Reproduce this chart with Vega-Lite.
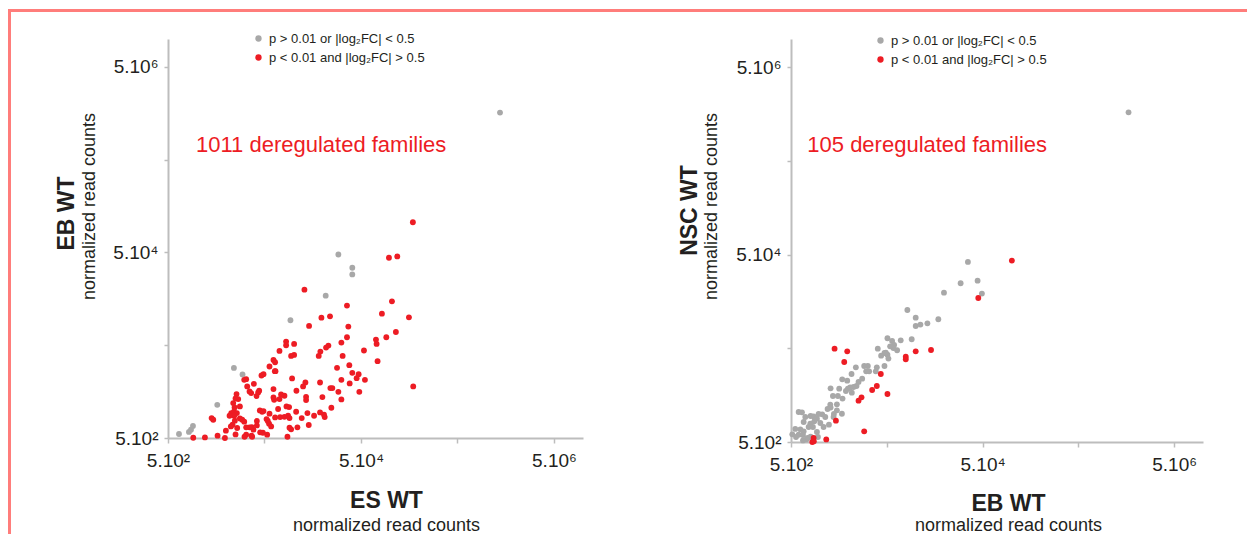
{
  "$schema": "https://vega.github.io/schema/vega-lite/v6.json",
  "padding": {"left": 8, "top": 9, "right": 0, "bottom": 0},
  "config": {
    "font": "Liberation Sans",
    "view": {"stroke": null},
    "axis": {"grid": false, "domainColor": "#BDBDBD", "domainWidth": 2, "tickColor": "#BDBDBD", "tickWidth": 1.5, "tickSize": 5, "labelFontSize": 19, "labelColor": "#231F20", "titleColor": "#231F20", "labelFont": "Liberation Sans", "titleFont": "Liberation Sans"}
  },
  "datasets": {
    "left": [
      {"x": 650, "y": 552, "g": "ns"}, {"x": 824, "y": 581, "g": "ns"}, {"x": 865, "y": 615, "g": "ns"}, {"x": 907, "y": 673, "g": "ns"},
      {"x": 1620, "y": 1140, "g": "ns"}, {"x": 2410, "y": 2850, "g": "ns"}, {"x": 2960, "y": 2420, "g": "ns"}, {"x": 9290, "y": 9290, "g": "ns"},
      {"x": 21550, "y": 17100, "g": "ns"}, {"x": 29150, "y": 47550, "g": "ns"}, {"x": 40650, "y": 34200, "g": "ns"}, {"x": 40650, "y": 29000, "g": "ns"},
      {"x": 1380000, "y": 1610000, "g": "ns"},
      {"x": 172500, "y": 105900, "g": "sig"}, {"x": 97500, "y": 43850, "g": "sig"}, {"x": 118900, "y": 45300, "g": "sig"}, {"x": 104700, "y": 14860, "g": "sig"},
      {"x": 82400, "y": 10950, "g": "sig"}, {"x": 157000, "y": 10000, "g": "sig"}, {"x": 115000, "y": 6950, "g": "sig"}, {"x": 91500, "y": 6095, "g": "sig"},
      {"x": 71500, "y": 5750, "g": "sig"}, {"x": 72600, "y": 5170, "g": "sig"}, {"x": 74300, "y": 3365, "g": "sig"}, {"x": 53700, "y": 4385, "g": "sig"},
      {"x": 174000, "y": 1800, "g": "sig"}, {"x": 12970, "y": 19860, "g": "sig"}, {"x": 35800, "y": 13370, "g": "sig"}, {"x": 19450, "y": 9910, "g": "sig"},
      {"x": 23880, "y": 10250, "g": "sig"}, {"x": 14490, "y": 8070, "g": "sig"}, {"x": 36970, "y": 7940, "g": "sig"}, {"x": 35800, "y": 6095, "g": "sig"},
      {"x": 31320, "y": 5340, "g": "sig"}, {"x": 22970, "y": 4960, "g": "sig"}, {"x": 21730, "y": 4720, "g": "sig"}, {"x": 18970, "y": 4275, "g": "sig"},
      {"x": 18240, "y": 3837, "g": "sig"}, {"x": 32280, "y": 3837, "g": "sig"}, {"x": 8375, "y": 5470, "g": "sig"}, {"x": 8375, "y": 5000, "g": "sig"},
      {"x": 10140, "y": 5170, "g": "sig"}, {"x": 7150, "y": 4345, "g": "sig"}, {"x": 10140, "y": 3935, "g": "sig"}, {"x": 9440, "y": 3837, "g": "sig"},
      {"x": 6195, "y": 3476, "g": "sig"}, {"x": 5635, "y": 2950, "g": "sig"}, {"x": 6500, "y": 2625, "g": "sig"}, {"x": 28240, "y": 2851, "g": "sig"},
      {"x": 37850, "y": 3048, "g": "sig"}, {"x": 40650, "y": 2520, "g": "sig"}, {"x": 45100, "y": 2208, "g": "sig"}, {"x": 47300, "y": 2438, "g": "sig"},
      {"x": 54950, "y": 2118, "g": "sig"}, {"x": 31320, "y": 2118, "g": "sig"}, {"x": 38190, "y": 1936, "g": "sig"}, {"x": 48060, "y": 1574, "g": "sig"},
      {"x": 9660, "y": 2192, "g": "sig"}, {"x": 13270, "y": 1984, "g": "sig"}, {"x": 12560, "y": 1798, "g": "sig"}, {"x": 18830, "y": 1984, "g": "sig"},
      {"x": 24090, "y": 1725, "g": "sig"}, {"x": 25250, "y": 1725, "g": "sig"}, {"x": 29150, "y": 1574, "g": "sig"}, {"x": 31320, "y": 1302, "g": "sig"},
      {"x": 19910, "y": 1380, "g": "sig"}, {"x": 24660, "y": 1059, "g": "sig"}, {"x": 18830, "y": 944, "g": "sig"}, {"x": 20700, "y": 891, "g": "sig"},
      {"x": 21040, "y": 841, "g": "sig"}, {"x": 16330, "y": 869, "g": "sig"}, {"x": 14380, "y": 690, "g": "sig"}, {"x": 13930, "y": 928, "g": "sig"},
      {"x": 10710, "y": 1614, "g": "sig"}, {"x": 13490, "y": 1390, "g": "sig"}, {"x": 13490, "y": 1282, "g": "sig"}, {"x": 10640, "y": 960, "g": "sig"},
      {"x": 8995, "y": 1077, "g": "sig"}, {"x": 8780, "y": 869, "g": "sig"}, {"x": 8450, "y": 1094, "g": "sig"}, {"x": 8050, "y": 1426, "g": "sig"},
      {"x": 7430, "y": 1475, "g": "sig"}, {"x": 7150, "y": 1313, "g": "sig"}, {"x": 6195, "y": 1683, "g": "sig"}, {"x": 6195, "y": 1368, "g": "sig"},
      {"x": 6295, "y": 1292, "g": "sig"}, {"x": 6920, "y": 1026, "g": "sig"}, {"x": 6440, "y": 834, "g": "sig"}, {"x": 7260, "y": 841, "g": "sig"},
      {"x": 8050, "y": 845, "g": "sig"}, {"x": 9080, "y": 820, "g": "sig"}, {"x": 12160, "y": 820, "g": "sig"}, {"x": 10970, "y": 651, "g": "sig"},
      {"x": 9440, "y": 620, "g": "sig"}, {"x": 9080, "y": 645, "g": "sig"}, {"x": 8650, "y": 516, "g": "sig"}, {"x": 5860, "y": 667, "g": "sig"},
      {"x": 5580, "y": 713, "g": "sig"}, {"x": 5410, "y": 762, "g": "sig"}, {"x": 5250, "y": 800, "g": "sig"}, {"x": 4730, "y": 960, "g": "sig"},
      {"x": 4475, "y": 992, "g": "sig"}, {"x": 4885, "y": 975, "g": "sig"}, {"x": 5635, "y": 914, "g": "sig"}, {"x": 4810, "y": 570, "g": "sig"},
      {"x": 5330, "y": 543, "g": "sig"}, {"x": 4510, "y": 576, "g": "sig"}, {"x": 4165, "y": 762, "g": "sig"}, {"x": 4165, "y": 684, "g": "sig"},
      {"x": 3697, "y": 656, "g": "sig"}, {"x": 3845, "y": 615, "g": "sig"}, {"x": 3500, "y": 651, "g": "sig"}, {"x": 3229, "y": 651, "g": "sig"},
      {"x": 3229, "y": 543, "g": "sig"}, {"x": 3105, "y": 516, "g": "sig"}, {"x": 3725, "y": 516, "g": "sig"}, {"x": 3229, "y": 2153, "g": "sig"},
      {"x": 3083, "y": 2118, "g": "sig"}, {"x": 3880, "y": 1919, "g": "sig"}, {"x": 3310, "y": 1798, "g": "sig"}, {"x": 3500, "y": 1588, "g": "sig"},
      {"x": 3640, "y": 1524, "g": "sig"}, {"x": 4130, "y": 1415, "g": "sig"}, {"x": 4405, "y": 1614, "g": "sig"}, {"x": 4300, "y": 1549, "g": "sig"},
      {"x": 4655, "y": 2360, "g": "sig"}, {"x": 4885, "y": 2438, "g": "sig"}, {"x": 6440, "y": 3280, "g": "sig"}, {"x": 6400, "y": 2625, "g": "sig"},
      {"x": 2565, "y": 1486, "g": "sig"}, {"x": 2506, "y": 1336, "g": "sig"}, {"x": 2371, "y": 1189, "g": "sig"}, {"x": 2672, "y": 1313, "g": "sig"},
      {"x": 2780, "y": 1094, "g": "sig"}, {"x": 2260, "y": 928, "g": "sig"}, {"x": 2410, "y": 960, "g": "sig"}, {"x": 2587, "y": 928, "g": "sig"},
      {"x": 2427, "y": 869, "g": "sig"}, {"x": 2173, "y": 869, "g": "sig"}, {"x": 2780, "y": 813, "g": "sig"}, {"x": 2937, "y": 787, "g": "sig"},
      {"x": 3083, "y": 750, "g": "sig"}, {"x": 2465, "y": 768, "g": "sig"}, {"x": 2333, "y": 695, "g": "sig"}, {"x": 2242, "y": 667, "g": "sig"},
      {"x": 2606, "y": 641, "g": "sig"}, {"x": 2506, "y": 547, "g": "sig"}, {"x": 1991, "y": 600, "g": "sig"}, {"x": 1945, "y": 500, "g": "sig"},
      {"x": 1632, "y": 530, "g": "sig"}, {"x": 1416, "y": 820, "g": "sig"}, {"x": 1472, "y": 787, "g": "sig"}, {"x": 1207, "y": 507, "g": "sig"},
      {"x": 914, "y": 503, "g": "sig"}, {"x": 2449, "y": 1069, "g": "sig"}, {"x": 3670, "y": 530, "g": "sig"}
    ],
    "right": [
      {"x": 35150, "y": 41770, "g": "ns"}, {"x": 29500, "y": 24720, "g": "ns"}, {"x": 44350, "y": 26370, "g": "ns"}, {"x": 49200, "y": 19180, "g": "ns"},
      {"x": 19770, "y": 19630, "g": "ns"}, {"x": 8200, "y": 12820, "g": "ns"}, {"x": 10020, "y": 10620, "g": "ns"}, {"x": 10020, "y": 8650, "g": "ns"},
      {"x": 11220, "y": 8950, "g": "ns"}, {"x": 13270, "y": 9240, "g": "ns"}, {"x": 17260, "y": 10200, "g": "ns"}, {"x": 9100, "y": 6240, "g": "ns"},
      {"x": 6990, "y": 6080, "g": "ns"}, {"x": 5080, "y": 6400, "g": "ns"}, {"x": 5680, "y": 5980, "g": "ns"}, {"x": 5960, "y": 5430, "g": "ns"},
      {"x": 5860, "y": 5040, "g": "ns"}, {"x": 4027, "y": 4960, "g": "ns"}, {"x": 4730, "y": 4456, "g": "ns"}, {"x": 5080, "y": 4277, "g": "ns"},
      {"x": 5200, "y": 3880, "g": "ns"}, {"x": 4365, "y": 4175, "g": "ns"}, {"x": 4730, "y": 3237, "g": "ns"}, {"x": 3935, "y": 3134, "g": "ns"},
      {"x": 3838, "y": 2838, "g": "ns"}, {"x": 3170, "y": 3237, "g": "ns"}, {"x": 3273, "y": 2838, "g": "ns"}, {"x": 2904, "y": 3237, "g": "ns"},
      {"x": 2377, "y": 3134, "g": "ns"}, {"x": 2143, "y": 2660, "g": "ns"}, {"x": 1713, "y": 2334, "g": "ns"}, {"x": 2535, "y": 2187, "g": "ns"},
      {"x": 2415, "y": 1981, "g": "ns"}, {"x": 2249, "y": 1932, "g": "ns"}, {"x": 2075, "y": 1910, "g": "ns"}, {"x": 1963, "y": 1853, "g": "ns"},
      {"x": 1871, "y": 1750, "g": "ns"}, {"x": 1593, "y": 1853, "g": "ns"}, {"x": 1543, "y": 1549, "g": "ns"}, {"x": 1726, "y": 1452, "g": "ns"},
      {"x": 1369, "y": 1549, "g": "ns"}, {"x": 1295, "y": 1870, "g": "ns"}, {"x": 1285, "y": 1252, "g": "ns"}, {"x": 1295, "y": 1164, "g": "ns"},
      {"x": 1507, "y": 1262, "g": "ns"}, {"x": 1700, "y": 1002, "g": "ns"}, {"x": 1402, "y": 995, "g": "ns"}, {"x": 1205, "y": 1125, "g": "ns"},
      {"x": 1059, "y": 986, "g": "ns"}, {"x": 971, "y": 995, "g": "ns"}, {"x": 861, "y": 939, "g": "ns"}, {"x": 801, "y": 947, "g": "ns"},
      {"x": 875, "y": 831, "g": "ns"}, {"x": 795, "y": 785, "g": "ns"}, {"x": 847, "y": 723, "g": "ns"}, {"x": 678, "y": 818, "g": "ns"},
      {"x": 601, "y": 1045, "g": "ns"}, {"x": 651, "y": 1037, "g": "ns"}, {"x": 626, "y": 683, "g": "ns"}, {"x": 678, "y": 650, "g": "ns"},
      {"x": 554, "y": 689, "g": "ns"}, {"x": 516, "y": 604, "g": "ns"}, {"x": 601, "y": 598, "g": "ns"}, {"x": 667, "y": 594, "g": "ns"},
      {"x": 746, "y": 552, "g": "ns"}, {"x": 801, "y": 570, "g": "ns"}, {"x": 723, "y": 533, "g": "ns"}, {"x": 667, "y": 520, "g": "ns"},
      {"x": 955, "y": 565, "g": "ns"}, {"x": 1245, "y": 766, "g": "ns"}, {"x": 2158, "y": 1682, "g": "ns"}, {"x": 2767, "y": 2372, "g": "ns"},
      {"x": 1932, "y": 2259, "g": "ns"}, {"x": 3047, "y": 2838, "g": "ns"}, {"x": 4885, "y": 4498, "g": "ns"}, {"x": 5420, "y": 5250, "g": "ns"},
      {"x": 6410, "y": 4762, "g": "ns"}, {"x": 1670000, "y": 1650000, "g": "ns"}, {"x": 705, "y": 925, "g": "ns"}, {"x": 933, "y": 887, "g": "ns"},
      {"x": 1012, "y": 798, "g": "ns"}, {"x": 1094, "y": 723, "g": "ns"}, {"x": 764, "y": 723, "g": "ns"}, {"x": 564, "y": 565, "g": "ns"},
      {"x": 933, "y": 639, "g": "ns"}, {"x": 1140, "y": 925, "g": "ns"}, {"x": 1391, "y": 925, "g": "ns"}, {"x": 1507, "y": 1089, "g": "ns"},
      {"x": 101100, "y": 43150, "g": "sig"}, {"x": 45100, "y": 17220, "g": "sig"}, {"x": 1425, "y": 4960, "g": "sig"}, {"x": 1932, "y": 4645, "g": "sig"},
      {"x": 1798, "y": 3574, "g": "sig"}, {"x": 7890, "y": 4073, "g": "sig"}, {"x": 7890, "y": 3817, "g": "sig"}, {"x": 10020, "y": 4645, "g": "sig"},
      {"x": 14480, "y": 4800, "g": "sig"}, {"x": 4330, "y": 2660, "g": "sig"}, {"x": 3935, "y": 1981, "g": "sig"}, {"x": 3516, "y": 1795, "g": "sig"},
      {"x": 5080, "y": 1627, "g": "sig"}, {"x": 2723, "y": 1500, "g": "sig"}, {"x": 2535, "y": 1381, "g": "sig"}, {"x": 1472, "y": 845, "g": "sig"},
      {"x": 2904, "y": 650, "g": "sig"}, {"x": 1167, "y": 533, "g": "sig"}, {"x": 861, "y": 552, "g": "sig"}, {"x": 834, "y": 500, "g": "sig"},
      {"x": 866, "y": 508, "g": "sig"}
    ]
  },
  "spacing": 0,
  "hconcat": [
    {"width": 3, "height": 525, "data": {"values": []}, "mark": "point", "encoding": {}, "view": {"fill": "#FF7D7B", "stroke": null}},
    {
      "spacing": 27,
      "bounds": "flush",
      "vconcat": [
        {"width": 1236, "height": 3, "data": {"values": []}, "mark": "point", "encoding": {}, "view": {"fill": "#FF7D7B", "stroke": null}},
        {
          "spacing": 0,
          "bounds": "flush",
          "resolve": {"scale": {"color": "independent", "x": "independent", "y": "independent"}, "legend": {"color": "independent"}},
          "hconcat": [
            {"width": 157, "height": 10, "data": {"values": []}, "mark": "point", "encoding": {}, "view": {"stroke": null}},
            {
              "width": 415, "height": 399,
              "data": {"name": "left"},
              "resolve": {"scale": {"x": "independent", "y": "independent"}},
              "layer": [
                {
                  "transform": [{"filter": "datum.g == 'ns'"}],
                  "mark": {"type": "circle", "size": 34, "opacity": 1},
                  "encoding": {
                    "x": {"field": "x", "type": "quantitative", "scale": {"type": "log", "domain": [500, 10000000], "nice": false},
                      "axis": {"orient": "bottom", "values": [500, 5000, 50000, 500000, 5000000], "labelExpr": "datum.value == 500 ? '5.10²' : datum.value == 50000 ? '5.10⁴' : datum.value == 5000000 ? '5.10⁶' : ''", "labelFlush": false, "labelOverlap": false, "labelPadding": 8, "title": "ES WT", "titleFontSize": 23, "titleFontWeight": "bold", "titlePadding": 19, "titleX": 218}},
                    "y": {"field": "y", "type": "quantitative", "scale": {"type": "log", "domain": [500, 10000000], "nice": false},
                      "axis": {"orient": "left", "values": [500, 5000, 50000, 500000, 5000000], "labelExpr": "datum.value == 500 ? '5.10²' : datum.value == 50000 ? '5.10⁴' : datum.value == 5000000 ? '5.10⁶' : ''", "labelFlush": false, "labelOverlap": false, "tickSize": 4, "labelPadding": 6, "title": "normalized read counts", "titleFontSize": 18, "titleFontWeight": "normal", "titlePadding": 14, "titleY": 167}},
                    "color": {"field": "g", "type": "nominal", "scale": {"domain": ["ns", "sig"], "range": ["#A8A8A8", "#ED1C24"]},
                      "legend": {"orient": "none", "legendX": 84, "legendY": -7, "title": null, "labelExpr": "datum.value == 'ns' ? 'p > 0.01 or |log₂FC| < 0.5' : 'p < 0.01 and |log₂FC| > 0.5'", "labelFontSize": 13, "labelColor": "#231F20", "symbolType": "circle", "symbolSize": 40, "symbolStrokeWidth": 0, "rowPadding": 5, "labelOffset": 4, "padding": 0}}
                  }
                },
                {
                  "transform": [{"filter": "datum.g == 'sig'"}],
                  "mark": {"type": "circle", "size": 34, "opacity": 1},
                  "encoding": {
                    "x": {"field": "x", "type": "quantitative", "scale": {"type": "log", "domain": [500, 10000000], "nice": false},
                      "axis": {"orient": "bottom", "labels": false, "ticks": false, "domain": false, "title": "normalized read counts", "titleFontSize": 18, "titleFontWeight": "normal", "titlePadding": 78, "titleX": 218}},
                    "y": {"field": "y", "type": "quantitative", "scale": {"type": "log", "domain": [500, 10000000], "nice": false},
                      "axis": {"orient": "left", "labels": false, "ticks": false, "domain": false, "title": "EB WT", "titleFontSize": 23, "titleFontWeight": "bold", "titlePadding": 90, "titleY": 174}},
                    "color": {"field": "g", "type": "nominal", "scale": {"domain": ["ns", "sig"], "range": ["#A8A8A8", "#ED1C24"]}}
                  }
                },
                {
                  "data": {"values": [{"x": 975, "y": 604000, "t": "1011 deregulated families"}]},
                  "mark": {"type": "text", "align": "left", "baseline": "alphabetic", "fontSize": 22, "color": "#ED1C24"},
                  "encoding": {
                    "x": {"field": "x", "type": "quantitative", "scale": {"type": "log", "domain": [500, 10000000], "nice": false}, "axis": null},
                    "y": {"field": "y", "type": "quantitative", "scale": {"type": "log", "domain": [500, 10000000], "nice": false}, "axis": null},
                    "text": {"field": "t"}
                  }
                }
              ]
            },
            {"width": 208, "height": 10, "data": {"values": []}, "mark": "point", "encoding": {}, "view": {"stroke": null}},
            {
              "width": 412, "height": 403,
              "data": {"name": "right"},
              "resolve": {"scale": {"x": "independent", "y": "independent"}},
              "layer": [
                {
                  "transform": [{"filter": "datum.g == 'ns'"}],
                  "mark": {"type": "circle", "size": 34, "opacity": 1},
                  "encoding": {
                    "x": {"field": "x", "type": "quantitative", "scale": {"type": "log", "domain": [500, 10000000], "nice": false},
                      "axis": {"orient": "bottom", "values": [500, 5000, 50000, 500000, 5000000], "labelExpr": "datum.value == 500 ? '5.10²' : datum.value == 50000 ? '5.10⁴' : datum.value == 5000000 ? '5.10⁶' : ''", "labelFlush": false, "labelOverlap": false, "labelPadding": 8, "title": "EB WT", "titleFontSize": 23, "titleFontWeight": "bold", "titlePadding": 18, "titleX": 217}},
                    "y": {"field": "y", "type": "quantitative", "scale": {"type": "log", "domain": [500, 10000000], "nice": false},
                      "axis": {"orient": "left", "values": [500, 5000, 50000, 500000, 5000000], "labelExpr": "datum.value == 500 ? '5.10²' : datum.value == 50000 ? '5.10⁴' : datum.value == 5000000 ? '5.10⁶' : ''", "labelFlush": false, "labelOverlap": false, "tickSize": 4, "labelPadding": 6, "title": "normalized read counts", "titleFontSize": 18, "titleFontWeight": "normal", "titlePadding": 15, "titleY": 167}},
                    "color": {"field": "g", "type": "nominal", "scale": {"domain": ["ns", "sig"], "range": ["#A8A8A8", "#ED1C24"]},
                      "legend": {"orient": "none", "legendX": 83, "legendY": -5, "title": null, "labelExpr": "datum.value == 'ns' ? 'p > 0.01 or |log₂FC| < 0.5' : 'p < 0.01 and |log₂FC| > 0.5'", "labelFontSize": 13, "labelColor": "#231F20", "symbolType": "circle", "symbolSize": 40, "symbolStrokeWidth": 0, "rowPadding": 5, "labelOffset": 4, "padding": 0}}
                  }
                },
                {
                  "transform": [{"filter": "datum.g == 'sig'"}],
                  "mark": {"type": "circle", "size": 34, "opacity": 1},
                  "encoding": {
                    "x": {"field": "x", "type": "quantitative", "scale": {"type": "log", "domain": [500, 10000000], "nice": false},
                      "axis": {"orient": "bottom", "labels": false, "ticks": false, "domain": false, "title": "normalized read counts", "titleFontSize": 18, "titleFontWeight": "normal", "titlePadding": 74, "titleX": 217}},
                    "y": {"field": "y", "type": "quantitative", "scale": {"type": "log", "domain": [500, 10000000], "nice": false},
                      "axis": {"orient": "left", "labels": false, "ticks": false, "domain": false, "title": "NSC WT", "titleFontSize": 23, "titleFontWeight": "bold", "titlePadding": 90, "titleY": 171}},
                    "color": {"field": "g", "type": "nominal", "scale": {"domain": ["ns", "sig"], "range": ["#A8A8A8", "#ED1C24"]}}
                  }
                },
                {
                  "data": {"values": [{"x": 740, "y": 626000, "t": "105 deregulated families"}]},
                  "mark": {"type": "text", "align": "left", "baseline": "alphabetic", "fontSize": 22, "color": "#ED1C24"},
                  "encoding": {
                    "x": {"field": "x", "type": "quantitative", "scale": {"type": "log", "domain": [500, 10000000], "nice": false}, "axis": null},
                    "y": {"field": "y", "type": "quantitative", "scale": {"type": "log", "domain": [500, 10000000], "nice": false}, "axis": null},
                    "text": {"field": "t"}
                  }
                }
              ]
            }
          ]
        }
      ]
    }
  ]
}
